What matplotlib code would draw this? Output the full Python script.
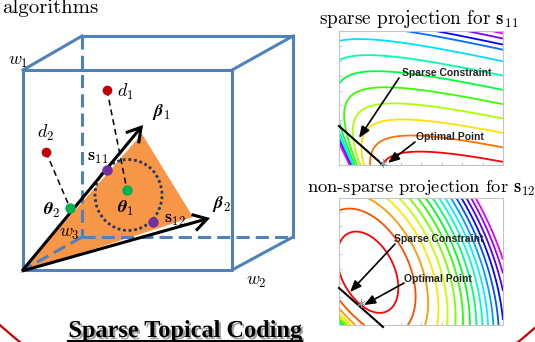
import numpy as np
import matplotlib
matplotlib.use("Agg")
import matplotlib.pyplot as plt
from matplotlib.patches import Polygon, Ellipse, FancyArrowPatch
import matplotlib.patheffects as pe

plt.rcParams["mathtext.fontset"] = "cm"

W, H = 535, 342

# ---------------- data (diagram geometry, pixel units) -------------
origin = (22, 271)
cube_front = [(23, 70), (232, 70), (232, 270), (23, 270)]
cube_solid_edges = [((23, 70), (82, 36)), ((82, 36), (293, 36)), ((293, 36), (232, 70)),
                    ((293, 36), (293, 237)), ((293, 237), (232, 270))]
cube_dashed_edges = [((82, 36), (82, 237)), ((82, 237), (293, 237)), ((82, 237), (23, 270))]
simplex = [(20, 273), (142, 134), (193, 217)]
beta_tips = {"beta1": (143, 125), "beta2": (210, 218)}
doc_points = {"d1": (107, 90), "d2": (46, 152)}
theta_points = {"theta1": (127, 190), "theta2": (70, 208)}
s_points = {"s11": (106.5, 170), "s12": (153, 222)}
ball_center, ball_size = (128.5, 195), (67, 71)

labels = [
    (r"$w_1$", (18, 61)), (r"$w_2$", (256, 281)), (r"$w_3$", (69, 233)),
    (r"$d_1$", (125, 92)), (r"$d_2$", (46, 133)),
    (r"$\boldsymbol{\beta}_1$", (161, 112)), (r"$\boldsymbol{\beta}_2$", (221, 204)),
    (r"$\mathbf{s}_{11}$", (98, 157)), (r"$\mathbf{s}_{12}$", (175, 219)),
    (r"$\boldsymbol{\theta}_1$", (126, 208)), (r"$\boldsymbol{\theta}_2$", (52, 210)),
]

# contour fields
top_params = dict(a=0.346, k=0.10, s=0.44)
top_levels = [0.472, 0.592, 0.712, 0.832, 0.952, 1.072, 1.192, 1.312, 1.41, 1.453, 1.504, 1.547]
bot_center = (28.7, 52.7)
bot_quad = dict(a=1.249e-3, b=3.58e-4, c=7.06e-4)
bot_corner_bump = dict(amp=13.0, scale=7.0)
bot_levels = [1 + 1.45 * n for n in range(17)]

top_box = (339, 31, 164, 134)    # left, top, width, height (px)
bot_box = (339, 198, 164, 127)

top_constraint = [(339, 126), (383, 165)]
top_optimal = (383, 163)
bot_constraint = [(339, 288), (383, 327)]
bot_optimal = (361, 303)

annotations = [
    ("Sparse Constraint", (447, 73), (399, 78), (359, 138)),
    ("Optimal Point", (450, 137), (415, 142), (388, 163)),
    ("Sparse Constraint", (439, 239), (395, 244), (350, 292)),
    ("Optimal Point", (438, 279), (404, 283), (364, 305)),
]

# ---------------------------------------------------------------------------------------
fig = plt.figure(figsize=(W / 100, H / 100), dpi=100)


def add_box_axes(box):
    l, t, w, h = box
    ax = fig.add_axes([l / W, 1 - (t + h) / H, w / W, h / H])
    for sp in ax.spines.values():
        sp.set_color("#c4c4c4")
        sp.set_linewidth(0.8)
    ax.tick_params(direction="in", length=2, width=0.5, color="#b0b0b0",
                   labelbottom=False, labelleft=False, top=False, right=False)
    return ax


# top contour panel
ax1 = add_box_axes(top_box)
u = np.linspace(0, 1, 600)
v = np.linspace(0, 1, 600)
U, V = np.meshgrid(u, v)
X = U + top_params["s"] * V + 1e-4
F1 = V + top_params["a"] * X + top_params["k"] / X
cols1 = plt.cm.hsv(np.linspace(0, 0.83, len(top_levels)))
ax1.contour(U, V, F1, levels=top_levels, colors=cols1, linewidths=1.3)
ax1.set_xlim(0, 1)
ax1.set_ylim(0, 1)
ax1.set_xticks(np.linspace(0, 1, 9)[1:-1])
ax1.set_yticks(np.linspace(0, 1, 10)[1:-1])

# bottom contour panel
ax2 = add_box_axes(bot_box)
xx = np.linspace(0, bot_box[2], 600)
yy = np.linspace(0, bot_box[3], 600)
XX, YY = np.meshgrid(xx, yy)
dx, dy = XX - bot_center[0], YY - bot_center[1]
F2 = bot_quad["a"] * dx ** 2 + 2 * bot_quad["b"] * dx * dy + bot_quad["c"] * dy ** 2
F2 = F2 + bot_corner_bump["amp"] * np.exp(-(XX + YY) / bot_corner_bump["scale"])
cols2 = plt.cm.hsv(np.linspace(0, 0.83, len(bot_levels)))
ax2.contour(XX, YY, F2, levels=bot_levels, colors=cols2, linewidths=1.3)
ax2.set_xlim(0, bot_box[2])
ax2.set_ylim(0, bot_box[3])
ax2.set_xticks(np.linspace(0, bot_box[2], 9)[1:-1])
ax2.set_yticks(np.linspace(0, bot_box[3], 10)[1:-1])

# overlay axes in pixel coordinates
ax = fig.add_axes([0, 0, 1, 1])
ax.set_xlim(0, W)
ax.set_ylim(H, 0)
ax.axis("off")
ax.patch.set_alpha(0)

blue = "#4f81bd"
ax.add_patch(Polygon(simplex, closed=True, facecolor="#f79646", edgecolor="none", zorder=1))

fx, fy = zip(*(cube_front + [cube_front[0]]))
ax.plot(fx, fy, color=blue, lw=2.2, zorder=2, solid_capstyle="butt")
for (p, q) in cube_solid_edges:
    ax.plot([p[0], q[0]], [p[1], q[1]], color=blue, lw=2.2, zorder=2)
for (p, q) in cube_dashed_edges:
    ax.plot([p[0], q[0]], [p[1], q[1]], color=blue, lw=2.2, zorder=2,
            linestyle=(0, (4.3, 2.0)))

# dotted ball
ax.add_patch(Ellipse(ball_center, ball_size[0], ball_size[1], fill=False,
                     edgecolor="#203864", lw=2.0, linestyle=(0, (1.0, 1.0)), zorder=3))

# dashed projections
ax.plot([doc_points["d1"][0], theta_points["theta1"][0]],
        [doc_points["d1"][1], theta_points["theta1"][1]],
        color="black", lw=1.1, linestyle=(0, (3.9, 2.6)), zorder=3)
ax.plot([doc_points["d2"][0], theta_points["theta2"][0]],
        [doc_points["d2"][1], theta_points["theta2"][1]],
        color="black", lw=1.1, linestyle=(0, (3.9, 2.6)), zorder=3)

# topic arrows
for tip in beta_tips.values():
    ax.add_patch(FancyArrowPatch(origin, tip, arrowstyle="->,head_length=0.5,head_width=0.3",
                                 mutation_scale=20, lw=2.2, color="black",
                                 shrinkA=0, shrinkB=0, zorder=4,
                                 joinstyle="miter", capstyle="butt"))

# points
for p in doc_points.values():
    ax.plot(*p, "o", ms=7, color="#c00000", mec="none", zorder=5)
for p in theta_points.values():
    ax.plot(*p, "o", ms=7.5, color="#00b050", mec="none", zorder=5)
for p in s_points.values():
    ax.plot(*p, "o", ms=7.5, color="#7030a0", mec="none", zorder=5)

for txt, (x, y) in labels:
    ax.text(x, y, txt, fontsize=13, ha="center", va="center", zorder=6)

# texts
ax.text(2, 13, "algorithms", fontfamily="cmr10", fontsize=15, ha="left", va="baseline")
ax.text(419, 24, r"sparse projection for $\mathbf{s}_{11}$", fontfamily="cmr10",
        fontsize=13.8, ha="center", va="baseline")
ax.text(421, 193, r"non-sparse projection for $\mathbf{s}_{12}$", fontfamily="cmr10",
        fontsize=13.3, ha="center", va="baseline")

# contour annotations
for (p, q) in (top_constraint, bot_constraint):
    ax.plot([p[0], q[0]], [p[1], q[1]], color="black", lw=1.5, zorder=5)
for p in (top_optimal, bot_optimal):
    ax.plot(*p, marker=(6, 2, 0), ms=6, color="#9a9a9a", mew=0.6, zorder=5)
for txt, tpos, a0, a1 in annotations:
    ax.text(tpos[0], tpos[1], txt, fontfamily="Liberation Sans", fontweight="bold",
            fontsize=7.5, color="#222222", ha="center", va="center", zorder=6)
    ax.add_patch(FancyArrowPatch(a0, a1, arrowstyle="-|>,head_length=0.45,head_width=0.18",
                                 mutation_scale=15, lw=1.2, color="black",
                                 shrinkA=0, shrinkB=0, zorder=6))

# red frame arc
ax.add_patch(Ellipse((269, 0), 822, 860, fill=False, edgecolor="#cc0000", lw=1.6, zorder=1))

# title of method
ax.text(185, 337, "Sparse Topical Coding", fontfamily="Liberation Serif", fontweight="bold",
        fontsize=17.5, ha="center", va="baseline", zorder=6,
        path_effects=[pe.withSimplePatchShadow(offset=(1.5, -1.5), shadow_rgbFace="#777777",
                                               alpha=0.7)])
ax.plot([68, 302], [340.5, 340.5], color="black", lw=1.5, zorder=6)

fig.savefig("out.png", dpi=100)
